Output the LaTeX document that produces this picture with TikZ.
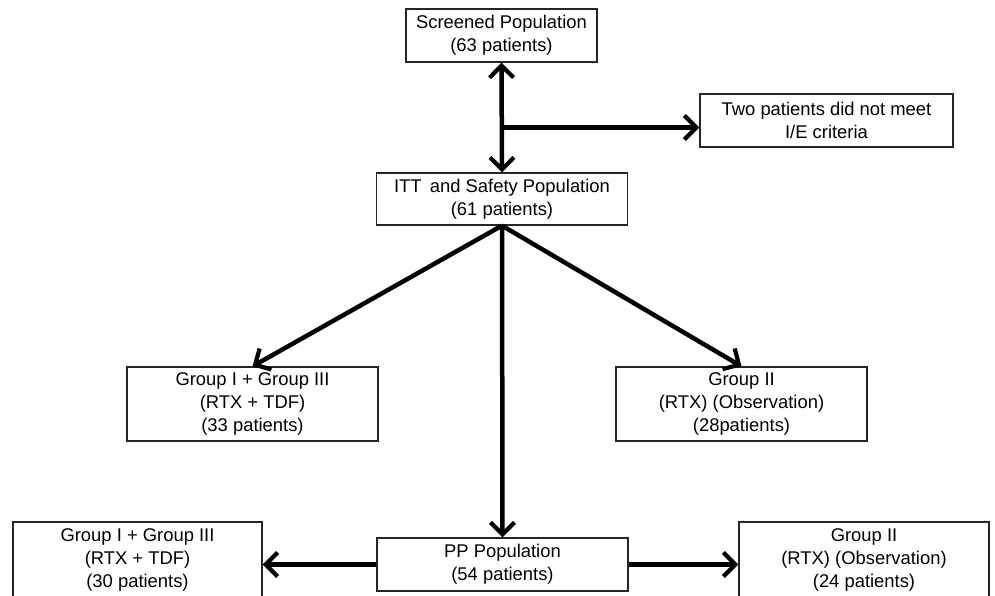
\documentclass[tikz,border=0pt]{standalone}
\usepackage{fontspec}
\setmainfont{Liberation Sans}
\usetikzlibrary{arrows.meta}
\begin{document}
\begin{tikzpicture}[x=1pt,y=-1pt,
  box/.style={draw=black!85,line width=1.3pt,fill=white,inner sep=0pt,align=center,
    font=\fontsize{18.4}{23}\selectfont},
  flow/.style={line width=4.5pt,-{Straight Barb[length=12pt,width=24pt,line width=4.2pt]}},
  flowboth/.style={line width=4.5pt,{Straight Barb[length=12pt,width=24pt,line width=4.2pt]}-{Straight Barb[length=12pt,width=24pt,line width=4.2pt]}}]
\useasboundingbox (0,0) rectangle (995,596);
\clip (0,0) rectangle (995,596);
\fill[white] (0,0) rectangle (995,596);
\node[box,minimum width=191pt,minimum height=53pt] (scr) at (501.5,35.5) {Screened Population\\(63 patients)};
\node[box,minimum width=253pt,minimum height=53pt] (two) at (826.5,120.5) {Two patients did not meet\\I/E criteria};
\node[box,minimum width=251pt,minimum height=52pt] (itt) at (502,199) {ITT\, and Safety Population\\(61 patients)};
\node[box,minimum width=251pt,minimum height=74pt] (g13) at (252.5,404) {Group I + Group III\\(RTX + TDF)\\(33 patients)};
\node[box,minimum width=251pt,minimum height=74pt] (g2) at (741.5,404) {Group II\\(RTX) (Observation)\\(28patients)};
\node[box,minimum width=251pt,minimum height=53pt] (pp) at (502.5,564.5) {PP Population\\(54 patients)};
\node[box,minimum width=249pt,minimum height=76pt] (b13) at (137.5,560) {Group I + Group III\\(RTX + TDF)\\(30 patients)};
\node[box,minimum width=250pt,minimum height=76pt] (b2) at (864,560) {Group II\\(RTX) (Observation)\\(24 patients)};
\coordinate (br) at (502,127.5);
\draw[flowboth] (scr.south) -- (itt.north);
\draw[flow] (br) -- (two.west |- br);
\draw[flow] (itt.south) -- (g13.north);
\draw[flow] (itt.south) -- (g2.north);
\draw[flow] (itt.south) -- (pp.north);
\draw[flow] (pp.west) -- (b13.east |- pp.west);
\draw[flow] (pp.east) -- (b2.west |- pp.east);
\end{tikzpicture}
\end{document}
